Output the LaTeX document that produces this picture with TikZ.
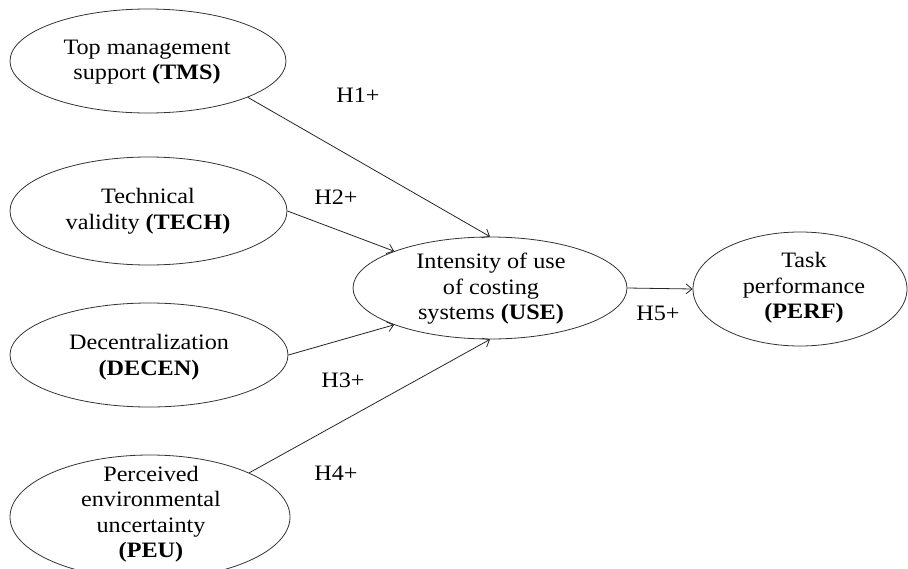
\documentclass[tikz,border=0pt]{standalone}
\usepackage{fontspec}
\setmainfont{Liberation Serif}[FakeStretch=1.1]
\usetikzlibrary{shapes.geometric, arrows.meta}

\begin{document}
\begin{tikzpicture}[x=1pt,y=-1pt,
  ell/.style={draw=black!80, line width=0.8pt, ellipse, inner sep=0pt},
  txt/.style={align=center, font=\fontsize{22}{25.5}\selectfont, inner sep=0pt},
  hlab/.style={font=\fontsize{22}{25.5}\selectfont, inner sep=0pt},
  conn/.style={draw=black!85, line width=0.8pt, -{Straight Barb[length=6pt,width=10pt]}}]
\path[use as bounding box] (0,0) rectangle (908,568);

% ellipses
\node[ell, minimum width=276pt, minimum height=104pt] (tms)   at (148,61)  {};
\node[ell, minimum width=277pt, minimum height=108pt] (tech)  at (148.5,211) {};
\node[ell, minimum width=278pt, minimum height=104pt] (decen) at (149,355) {};
\node[ell, minimum width=280pt, minimum height=124pt] (peu)   at (150,517) {};
\node[ell, minimum width=274pt, minimum height=102pt] (use)   at (490,288) {};
\node[ell, minimum width=214pt, minimum height=114pt] (perf)  at (800,289) {};

% texts
\node[txt] (ttms)   at (147,62)  {Top management\\support \textbf{(TMS)}};
\node[txt] (ttech)  at (148,211) {Technical\\validity \textbf{(TECH)}};
\node[txt] (tdecen) at (149,357) {Decentralization\\\textbf{(DECEN)}};
\node[txt] (tpeu)   at (151,514) {Perceived\\environmental\\uncertainty\\\textbf{(PEU)}};
\node[txt] (tuse)   at (491,289) {Intensity of use\\of costing\\systems \textbf{(USE)}};
\node[txt] (tperf)  at (804,288) {Task\\performance\\\textbf{(PERF)}};

% connectors
\draw[conn] (tms.-20.5) -- (use.90);
\draw[conn] (tech.-0.5) -- (use.159.6);
\draw[conn] (decen.0) -- (use.-159);
\draw[conn] (peu.24.7) -- (use.-90);
\draw[conn] (use.0) -- (perf.180);

% hypothesis labels
\node[hlab] (h1) at (358,95)  {H1+};
\node[hlab] (h2) at (336,197) {H2+};
\node[hlab] (h3) at (343,380) {H3+};
\node[hlab] (h4) at (336,473) {H4+};
\node[hlab] (h5) at (658,313) {H5+};
\end{tikzpicture}
\end{document}
